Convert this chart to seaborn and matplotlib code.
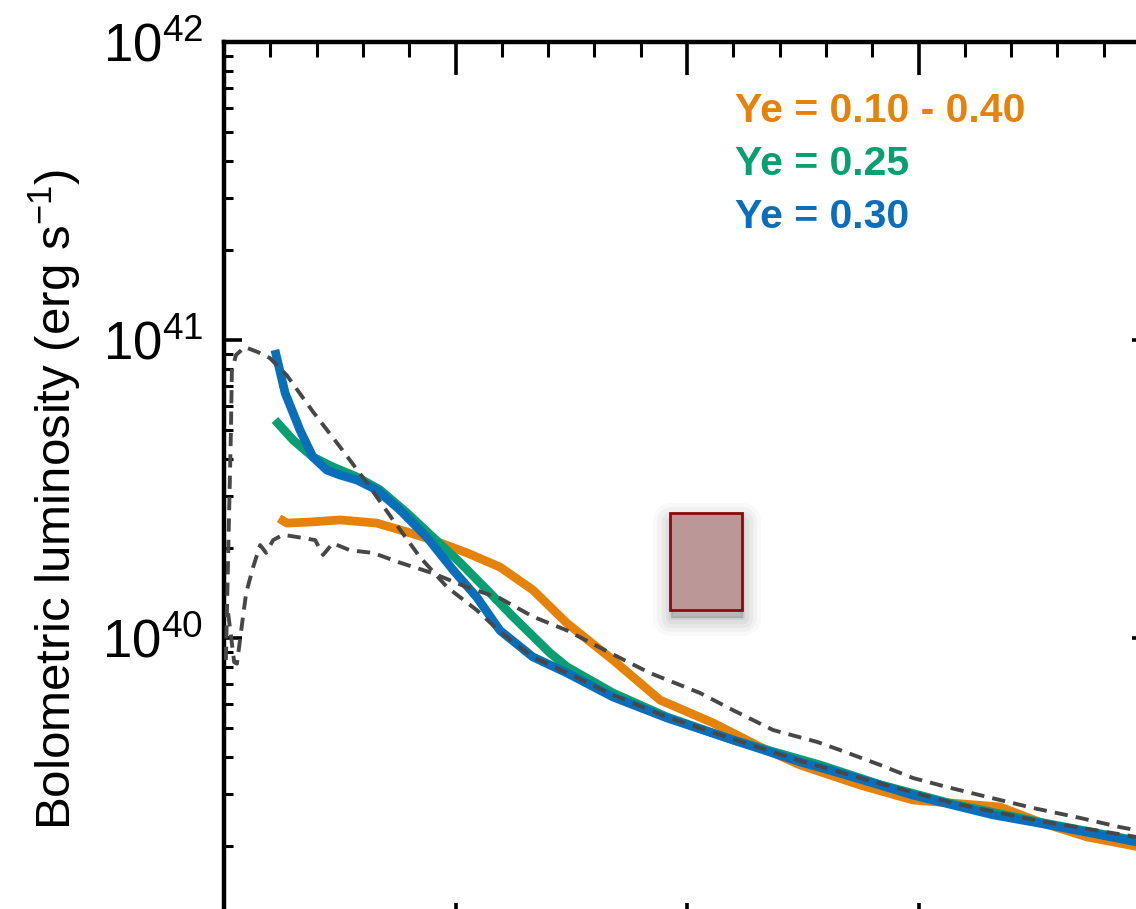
import numpy as np
import pandas as pd
import matplotlib
matplotlib.use("Agg")
import matplotlib.pyplot as plt
import seaborn as sns
from matplotlib.ticker import LogLocator, MultipleLocator, FuncFormatter, NullFormatter
from matplotlib.patches import Rectangle
from matplotlib.transforms import offset_copy

# ---------------- data (time in days, luminosity in units of 1e40 erg/s) ----------------
t_orange = [1.19, 1.36, 1.86, 2.51, 3.30, 3.95, 4.51, 5.25, 5.96, 6.67, 7.41, 8.40, 9.42,
            10.56, 11.58, 12.44, 13.74, 14.88, 16.76, 17.62, 18.64, 19.70, 20.0]
L_orange = [2.52, 2.43, 2.45, 2.49, 2.43, 2.27, 2.13, 1.93, 1.73, 1.45, 1.12, 0.844, 0.619,
            0.519, 0.431, 0.375, 0.321, 0.286, 0.271, 0.241, 0.215, 0.200, 0.196]

t_green = [1.10, 1.49, 1.92, 2.35, 2.87, 3.37, 3.95, 4.51, 5.10, 5.68, 6.24, 7.04, 7.41,
           8.40, 9.57, 10.99, 11.73, 12.87, 14.17, 15.75, 17.62, 19.70, 20.0]
L_green = [5.39, 4.62, 4.05, 3.75, 3.47, 3.14, 2.63, 2.18, 1.79, 1.45, 1.18, 0.891, 0.800,
           0.654, 0.543, 0.455, 0.421, 0.375, 0.322, 0.277, 0.241, 0.209, 0.204]

t_blue = [1.10, 1.32, 1.64, 1.92, 2.22, 2.51, 2.87, 3.30, 3.80, 4.38, 4.95, 5.46, 5.96, 6.67,
          7.41, 8.40, 9.57, 10.99, 12.44, 13.30, 14.17, 14.88, 15.75, 16.61, 17.62, 18.64, 19.70, 20.0]
L_blue = [9.26, 6.64, 4.99, 4.05, 3.66, 3.52, 3.39, 3.14, 2.69, 2.18, 1.69, 1.37, 1.06, 0.864,
          0.763, 0.634, 0.539, 0.455, 0.384, 0.352, 0.321, 0.297, 0.275, 0.255, 0.239, 0.223, 0.207, 0.202]

# observed bolometric light curves (dashed)
t_obs_a = [0.04, 0.15, 0.17, 0.26, 0.45, 0.73, 0.99, 1.36, 1.92, 2.51, 3.09, 3.65, 4.23, 4.82,
           5.46, 5.96, 6.67, 7.41, 8.40, 9.57, 10.99, 12.44, 14.17, 15.75, 17.62, 19.70, 20.0]
L_obs_a = [0.844, 4.99, 7.93, 8.91, 9.47, 9.11, 8.70, 7.6, 5.75, 4.37, 3.31, 2.49, 1.87, 1.48,
           1.24, 1.05, 0.864, 0.763, 0.644, 0.543, 0.458, 0.387, 0.325, 0.279, 0.243, 0.215, 0.211]

t_obs_b = [0.09, 0.22, 0.28, 0.41, 0.48, 0.63, 0.78, 0.91, 1.06, 1.27, 1.68, 1.97, 2.14, 2.35,
           2.72, 3.22, 3.80, 4.51, 5.25, 5.96, 6.67, 7.41, 8.34, 9.20, 10.28, 10.99, 11.86, 12.81,
           13.30, 14.17, 14.88, 15.62, 16.48, 17.47, 18.49, 19.35, 20.0]
L_obs_b = [1.21, 0.83, 0.82, 1.18, 1.42, 1.73, 2.05, 1.93, 2.13, 2.22, 2.17, 2.13, 1.90, 2.08,
           1.97, 1.93, 1.79, 1.65, 1.48, 1.36, 1.18, 1.06, 0.891, 0.763, 0.654, 0.573, 0.491, 0.448,
           0.421, 0.375, 0.339, 0.316, 0.293, 0.269, 0.249, 0.232, 0.222]

# observational box (days, 1e40 erg/s)
box_t = [9.63, 11.19]
box_L = [1.24, 2.63]

labels = ["Ye = 0.10 - 0.40", "Ye = 0.25", "Ye = 0.30"]
colors = ["#E5820A", "#0A9E73", "#0A6FBA"]

# ---------------- style ----------------
sns.set_style("ticks")
plt.rcParams['font.family'] = ['Liberation Sans', 'DejaVu Sans']
plt.rcParams['mathtext.fontset'] = 'custom'
plt.rcParams['mathtext.rm'] = 'Liberation Sans'
plt.rcParams['mathtext.it'] = 'Liberation Sans:italic'
plt.rcParams['mathtext.bf'] = 'Liberation Sans:bold'
for k in ['text.color', 'axes.labelcolor', 'xtick.color', 'ytick.color', 'axes.edgecolor']:
    plt.rcParams[k] = 'black'

fig = plt.figure(figsize=(11.36, 9.09), dpi=100)
ax = fig.add_axes([224 / 1136, 1 - 936 / 909, 926 / 1136, 894 / 909])
ax.set_yscale('log')

series = [(t_orange, L_orange), (t_green, L_green), (t_blue, L_blue)]
for (t, L), c in zip(series, colors):
    df = pd.DataFrame({"t": t, "L": np.array(L) * 1e40})
    sns.lineplot(data=df, x="t", y="L", ax=ax, color=c, lw=6.3, sort=False,
                 estimator=None, solid_joinstyle='round', solid_capstyle='butt', zorder=3)

for t, L in [(t_obs_a, L_obs_a), (t_obs_b, L_obs_b)]:
    df = pd.DataFrame({"t": t, "L": np.array(L) * 1e40})
    sns.lineplot(data=df, x="t", y="L", ax=ax, color="#474747", lw=2.8, sort=False,
                 estimator=None, linestyle=(0, (3.4, 2.1)), zorder=4)

# shadow + box
for lw, a in [(26, 0.025), (20, 0.03), (14, 0.035), (8, 0.04), (3, 0.05)]:
    tr = offset_copy(ax.transData, fig=fig, x=1, y=-6, units='points')
    ax.add_patch(Rectangle((box_t[0], box_L[0] * 1e40), box_t[1] - box_t[0],
                           (box_L[1] - box_L[0]) * 1e40, transform=tr,
                           facecolor=(0, 0, 0, a), edgecolor=(0, 0, 0, a), lw=lw,
                           joinstyle='round', zorder=4.5))
ax.add_patch(Rectangle((box_t[0], box_L[0] * 1e40), box_t[1] - box_t[0],
                       (box_L[1] - box_L[0]) * 1e40, facecolor="#BB9798",
                       edgecolor="#8E0A0A", lw=2.0, zorder=5))

ax.set_xlim(0, 20)
ax.set_ylim(1e39, 1e42)
ax.xaxis.set_major_locator(MultipleLocator(5))
ax.xaxis.set_minor_locator(MultipleLocator(1))
ax.yaxis.set_major_locator(LogLocator(base=10))
ax.yaxis.set_minor_locator(LogLocator(base=10, subs=np.arange(2, 10)))
ax.yaxis.set_minor_formatter(NullFormatter())
ax.yaxis.set_major_formatter(FuncFormatter(lambda v, p: r'$\mathregular{10^{%d}}$' % round(np.log10(v))))

ax.tick_params(axis='x', which='major', direction='in', length=24, width=2.6,
               top=True, bottom=True, labelbottom=False, color='black')
ax.tick_params(axis='x', which='minor', direction='in', length=11, width=2.2,
               top=True, bottom=True, color='black')
ax.tick_params(axis='y', which='major', direction='in', length=13, width=2.6,
               left=True, right=True, labelsize=38, pad=15, color='black', labelcolor='black')
ax.tick_params(axis='y', which='minor', direction='in', length=6.5, width=2.2,
               left=True, right=True, color='black')
for s in ax.spines.values():
    s.set_linewidth(3.2)
    s.set_color('black')
    s.set_visible(True)

ax.set_xlabel("")
ax.set_ylabel(r"Bolometric luminosity (erg s$^{\mathregular{-1}}$)", fontsize=35.5, color='black')
ax.yaxis.label.set_va('center')
ax.yaxis.set_label_coords(-0.182, 0.488)

ys = [0.9105, 0.8512, 0.7919]
for lab, c, y in zip(labels, colors, ys):
    ax.text(0.552, y, lab, transform=ax.transAxes, color=c, fontsize=29.5,
            fontweight='bold', va='baseline', ha='left')

fig.savefig("out.png", dpi=100)
